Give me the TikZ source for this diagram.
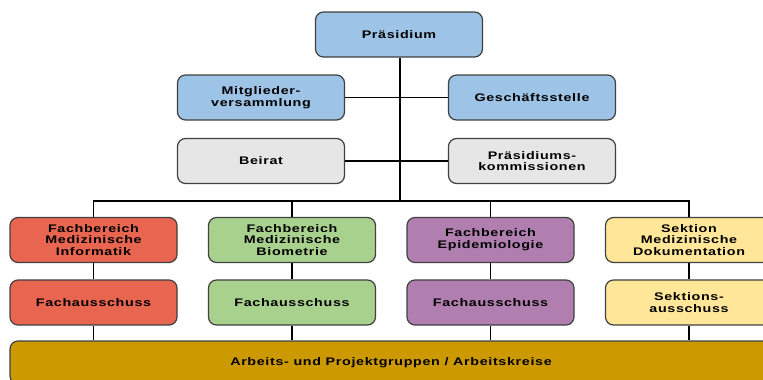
\documentclass[tikz,border=0pt]{standalone}
\usepackage{fontspec}
\setmainfont{Liberation Sans}[FakeStretch=1.3,LetterSpace=6]
\definecolor{cblue}{RGB}{157,195,230}
\definecolor{cgray}{RGB}{230,230,230}
\definecolor{cred}{RGB}{232,101,79}
\definecolor{cgreen}{RGB}{169,209,142}
\definecolor{cpurple}{RGB}{176,127,176}
\definecolor{cyellow}{RGB}{255,230,153}
\definecolor{cgold}{RGB}{204,153,0}
\definecolor{cborder}{RGB}{64,64,64}
\begin{document}
\begin{tikzpicture}[x=1pt,y=-1pt,
  box/.style={draw=cborder,line width=1.2pt,rounded corners=8pt,
    minimum width=167pt,minimum height=45pt,align=center,
    inner sep=2pt,font=\fontsize{11}{11.7}\selectfont\bfseries},
  link/.style={draw=black,line width=1.3pt}]
\useasboundingbox (0,0) rectangle (763,380);
\clip (0,0) rectangle (763,380);
\node[box,fill=cblue] (pres) at (399,34.5) {Präsidium};
\node[box,fill=cblue] (mv) at (261,97.5) {Mitglieder-\\versammlung};
\node[box,fill=cblue] (gs) at (532,97.5) {Geschäftsstelle};
\node[box,fill=cgray] (beirat) at (261,161) {Beirat};
\node[box,fill=cgray] (pk) at (532,161) {Präsidiums-\\kommissionen};
\node[box,fill=cred] (fb1) at (93.5,240) {Fachbereich\\Medizinische\\Informatik};
\node[box,fill=cgreen] (fb2) at (292,240) {Fachbereich\\Medizinische\\Biometrie};
\node[box,fill=cpurple] (fb3) at (490.5,240) {Fachbereich\\Epidemiologie};
\node[box,fill=cyellow] (fb4) at (689,240) {Sektion\\Medizinische\\Dokumentation};
\node[box,fill=cred] (fa1) at (93.5,302.5) {Fachausschuss};
\node[box,fill=cgreen] (fa2) at (292,302.5) {Fachausschuss};
\node[box,fill=cpurple] (fa3) at (490.5,302.5) {Fachausschuss};
\node[box,fill=cyellow] (fa4) at (689,302.5) {Sektions-\\ausschuss};
\node[box,fill=cgold,minimum width=762pt,minimum height=43pt] (ag) at (391,362.5) {Arbeits- und Projektgruppen / Arbeitskreise};
\coordinate (hub) at (400,201);
\draw[link] (pres.south -| hub) -- (hub);
\draw[link] (fb1.north) -- (fb1.north |- hub) -- (fb4.north |- hub) -- (fb4.north);
\draw[link] (fb2.north) -- (fb2.north |- hub);
\draw[link] (fb3.north) -- (fb3.north |- hub);
\draw[link] (mv.east) -- (gs.west);
\draw[link] (beirat.east) -- (pk.west);
\foreach \i in {1,2,3,4}{
  \draw[link] (fb\i.south) -- (fa\i.north);
  \draw[link] (fa\i.south) -- (fa\i.south |- ag.north);
}
\end{tikzpicture}
\end{document}
